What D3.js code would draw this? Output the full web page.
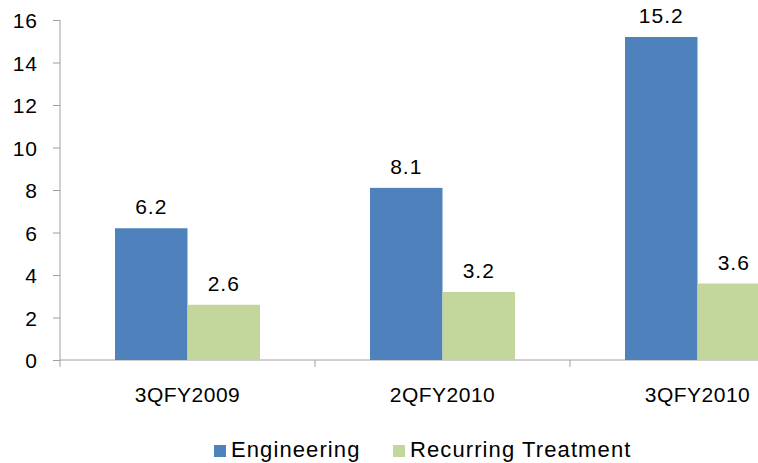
<!DOCTYPE html>
<html>
<head>
<meta charset="utf-8">
<script src="https://cdn.jsdelivr.net/npm/d3@7"></script>
<style>
  body { margin: 0; background: #fff; }
  svg text { font-family: "Liberation Sans", Arial, sans-serif; fill: #000; }
</style>
</head>
<body>
<div id="chart"></div>
<script>
// chart data
const categories = ['3QFY2009', '2QFY2010', '3QFY2010'];
const seriesNames = ['Engineering', 'Recurring Treatment'];
const engineering = [6.2, 8.1, 15.2];
const recurring = [2.6, 3.2, 3.6];
const yTicks = [0, 2, 4, 6, 8, 10, 12, 14, 16];
const colors = ['#4F81BD', '#C3D69B'];

const width = 758, height = 463;

const svg = d3.select('#chart').append('svg')
  .attr('width', width)
  .attr('height', height);

// scales (plot runs past the right edge, like the original crop)
const x = d3.scaleBand().domain(categories).range([60, 825]);
const xInner = d3.scaleBand().domain(seriesNames).range([55, 200]);
const y = d3.scaleLinear().domain([0, 16]).range([360, 20]);

// y axis
const yAxis = svg.append('g')
  .attr('transform', 'translate(60,0)')
  .call(d3.axisLeft(y).tickValues(yTicks).tickSize(7).tickPadding(15).tickFormat(d3.format('d')));
yAxis.select('.domain').attr('stroke', '#a0a0a0').attr('d', 'M0,20V367');
yAxis.selectAll('.tick line').attr('stroke', '#a0a0a0');
yAxis.selectAll('.tick text')
  .style('font-size', '21px')
  .style('letter-spacing', '1px')
  .attr('dy', '0.36em');

// x axis - ticks at band boundaries
const xAxis = svg.append('g').attr('transform', 'translate(0,360)');
xAxis.append('line')
  .attr('x1', 60).attr('x2', width)
  .attr('stroke', '#a0a0a0');
xAxis.selectAll('line.tk')
  .data(categories.slice(1))
  .enter().append('line')
  .attr('class', 'tk')
  .attr('x1', d => x(d)).attr('x2', d => x(d))
  .attr('y1', 0).attr('y2', 7)
  .attr('stroke', '#a0a0a0');
xAxis.selectAll('text')
  .data(categories)
  .enter().append('text')
  .attr('x', d => x(d) + x.bandwidth() / 2)
  .attr('y', 42)
  .attr('text-anchor', 'middle')
  .style('font-size', '21px')
  .style('letter-spacing', '0.5px')
  .text(d => d);

// bars
const rows = categories.map((c, i) => ({ cat: c, vals: [engineering[i], recurring[i]] }));

const groups = svg.selectAll('.grp')
  .data(rows)
  .enter().append('g')
  .attr('class', 'grp')
  .attr('transform', d => `translate(${x(d.cat)},0)`);

groups.selectAll('rect')
  .data(d => d.vals.map((v, j) => ({ name: seriesNames[j], v: v, j: j })))
  .enter().append('rect')
  .attr('x', d => xInner(d.name))
  .attr('y', d => y(d.v))
  .attr('width', xInner.bandwidth())
  .attr('height', d => y(0) - y(d.v))
  .attr('fill', d => colors[d.j]);

groups.selectAll('text')
  .data(d => d.vals.map((v, j) => ({ name: seriesNames[j], v: v })))
  .enter().append('text')
  .attr('x', d => xInner(d.name) + xInner.bandwidth() / 2)
  .attr('y', d => y(d.v) - 14)
  .attr('text-anchor', 'middle')
  .style('font-size', '21px')
  .style('letter-spacing', '1px')
  .text(d => d.v.toFixed(1));

// legend
const legendX = [214, 393];
const legend = svg.selectAll('.leg')
  .data(seriesNames)
  .enter().append('g')
  .attr('class', 'leg')
  .attr('transform', (d, i) => `translate(${legendX[i]},445)`);
legend.append('rect')
  .attr('width', 12).attr('height', 12)
  .attr('fill', (d, i) => colors[i]);
legend.append('text')
  .attr('x', 17)
  .attr('y', 12)
  .style('font-size', '22px')
  .style('letter-spacing', '1.1px')
  .text(d => d);
</script>
</body>
</html>
